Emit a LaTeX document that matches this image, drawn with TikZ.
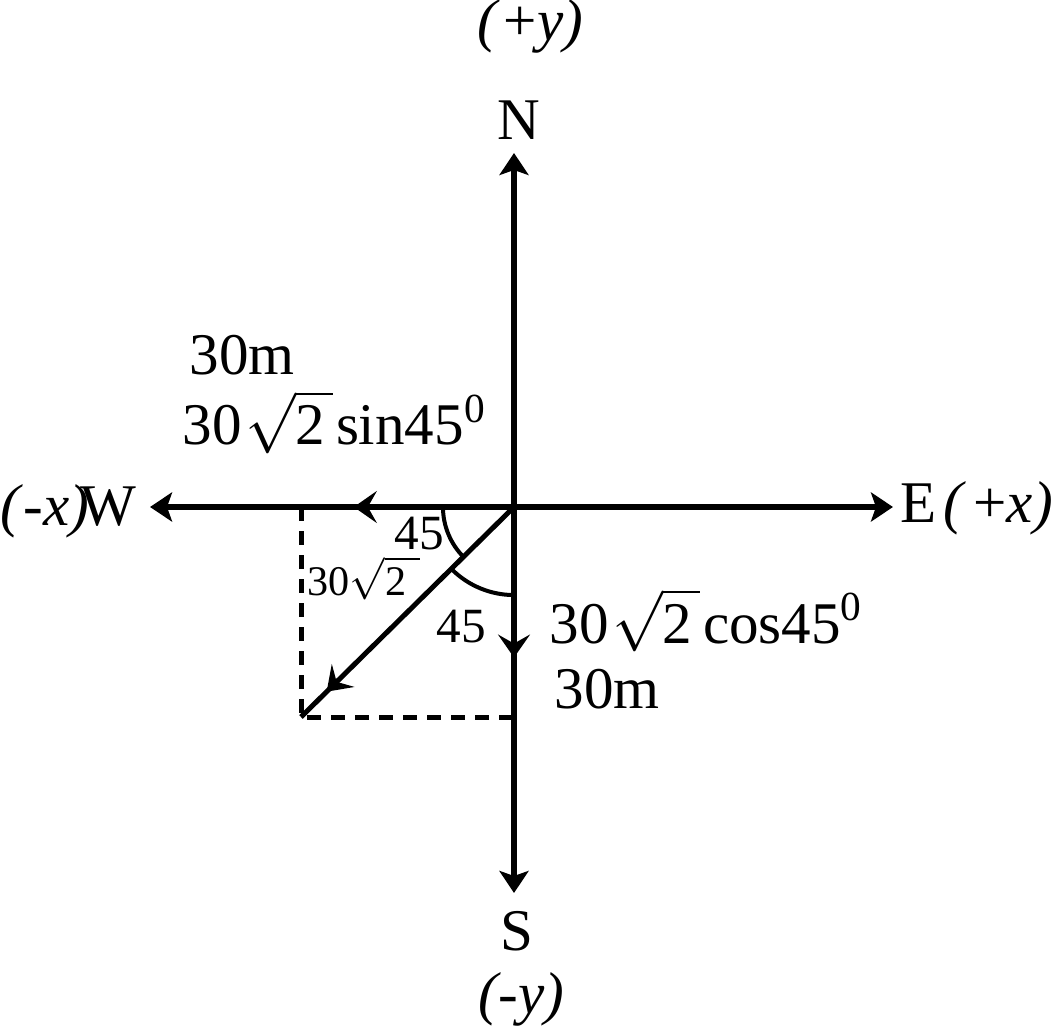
\documentclass[tikz,border=0pt]{standalone}
\usepackage{fontspec}
\setmainfont{Liberation Serif}
\usetikzlibrary{arrows.meta,decorations.markings}
\begin{document}
\begin{tikzpicture}[x=0.01cm,y=-0.01cm,
  axis/.style={line width=0.055cm,{Stealth[length=0.22cm,width=0.29cm,inset=0.05cm]}-{Stealth[length=0.22cm,width=0.29cm,inset=0.05cm]}},
  dashline/.style={line width=0.05cm,dash pattern=on 0.14cm off 0.1cm},
  anglearc/.style={line width=0.04cm},
  midtip/.tip={Stealth[length=0.23cm,width=0.32cm,inset=0.09cm,line width=0.03cm]},
  midarrow/.style={line width=0.05cm,decoration={markings,mark=at position #1 with {\arrow{midtip}}},postaction={decorate}},
  big/.style={inner sep=0pt,anchor=base west,font=\fontsize{16.8}{20}\selectfont},
  mid/.style={inner sep=0pt,anchor=base west,font=\fontsize{14}{16}\selectfont},
  small/.style={inner sep=0pt,anchor=base west,font=\fontsize{12}{14}\selectfont}]
\useasboundingbox (0,0) rectangle (1058,1028);
% coordinates
\coordinate (O) at (514,507);
\coordinate (W) at (150,507);
\coordinate (E) at (893,507);
\coordinate (N) at (514,153);
\coordinate (S) at (514,893);
\coordinate (P) at (301,717);
\coordinate (Pw) at (301,507);
\coordinate (Ps) at (514,717);
% axes
\draw[axis] (W) -- (E);
\draw[axis] (N) -- (S);
% mid arrows
\path[midarrow=0.44] (O) -- (W);
\path[midarrow=0.39] (O) -- (S);
\draw[midarrow=0.88] (O) -- (P);
% dashed components
\draw[dashline] (Pw) -- (P) -- (Ps);
% angle arcs
\draw[anglearc] (O) ++(180:0.71cm) arc[start angle=180,end angle=225,radius=0.71cm];
\draw[anglearc] (O) ++(225:0.88cm) arc[start angle=225,end angle=270,radius=0.88cm];
% labels
\node[big] (py) at (477,41) {\textit{(}\kern1pt+\textit{y)}};
\node[big] (nN) at (497,140) {N};
\node[big] (nS) at (500,950) {S};
\node[big] (my) at (478,1013) {\textit{(-y)}};
\node[big] (nW) at (0,526) {\textit{(\kern1pt-x)}\kern-2.5pt W};
\node[big] (nE) at (900,523) {E\kern2pt\textit{(}\kern2pt+\textit{x)}};
\node[big] (m1) at (189,375) {30m};
\node[big] (sinl) at (182,445) {30\kern1pt$\sqrt{\mbox{2}\kern2pt}$\kern1pt sin45\textsuperscript{0}};
\node[big] (cosl) at (549,643) {30\kern1pt$\sqrt{\mbox{2}\kern2pt}$\kern1pt cos45\textsuperscript{0}};
\node[big] (m2) at (554,708) {30m};
\node[mid] (a1) at (394,549) {45};
\node[mid] (a2) at (436,642) {45};
\node[small] (hyp) at (307,595) {30$\sqrt{\mbox{2}\kern4pt}$};
\end{tikzpicture}
\end{document}
